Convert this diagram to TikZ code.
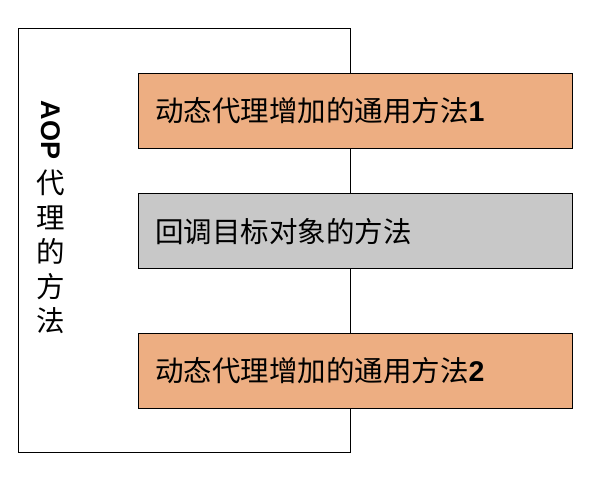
\documentclass[tikz,border=0pt]{standalone}
\usepackage{fontspec}
\setmainfont{Liberation Sans}
\newfontfamily\cjk{Noto Sans CJK SC}
\begin{document}
\begin{tikzpicture}[x=1pt,y=-1pt,
  box/.style={draw=black,line width=1pt,minimum width=434pt,minimum height=75pt,anchor=north west,inner sep=0pt},
  lbl/.style={font=\fontsize{28.5}{32}\selectfont\cjk,anchor=west,inner sep=0pt}]
\useasboundingbox (0,0) rectangle (607,482);
\node[draw=black,line width=1pt,minimum width=332pt,minimum height=424pt,anchor=north west,inner sep=0pt] (outer) at (18,28) {};
\node[box,fill={rgb,255:red,237;green,174;blue,130}] (b1) at (138,73) {};
\node[box,fill={rgb,255:red,200;green,200;blue,200}] (b2) at (138,193) {};
\node[box,fill={rgb,255:red,237;green,174;blue,130}] (b3) at (138,333) {};
\node[lbl] (t1) at (155,110.5) {动态代理增加的通用方法{\rmfamily\bfseries 1}};
\node[lbl] (t2) at (155,232) {回调目标对象的方法};
\node[lbl] (t3) at (155,370.5) {动态代理增加的通用方法{\rmfamily\bfseries 2}};
\node[rotate=-90,font=\fontsize{27}{30}\selectfont\bfseries,inner sep=0pt] (aop) at (51,130) {AOP};
\node[font=\fontsize{28.5}{34.5}\selectfont\cjk,align=center,anchor=north,inner sep=0pt] (v) at (51,170) {代\\理\\的\\方\\法};
\end{tikzpicture}
\end{document}
